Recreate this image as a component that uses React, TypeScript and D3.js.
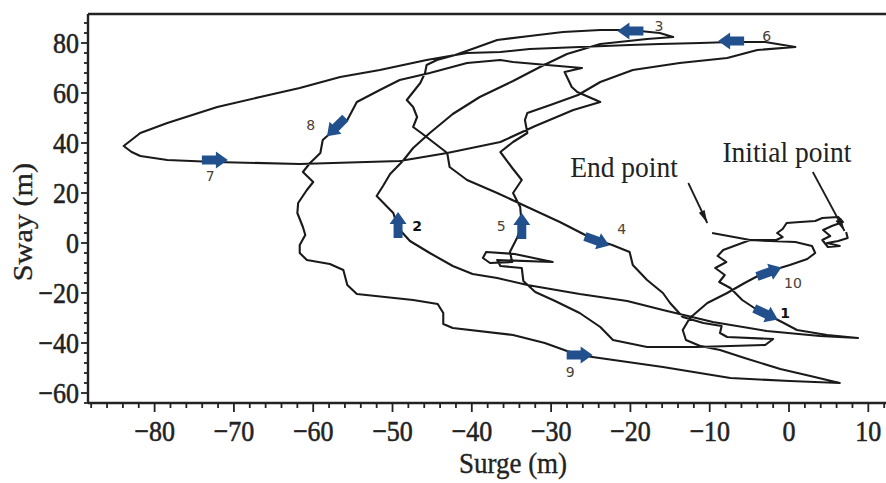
import React from 'react';
import * as d3 from 'd3';

const W = 886;
const H = 483;

// Axis ticks
const xTickValues = [-80, -70, -60, -50, -40, -30, -20, -10, 0, 10];
const yTickValues = [-60, -40, -20, 0, 20, 40, 60, 80];

// Trajectory legs [surge, sway] (m)
const leg1: [number, number][] = [
  [7.2, 4.4], [7.4, 2.0], [6.2, 0.8], [4.8, 0], [6.4, -1.2], [4.9, -1.6], [4.2, 1.2], [5.2, 2.8], [4.3, 5.2],
  [5.4, 6.8], [6.8, 8.4], [6.2, 10.4], [4.2, 10], [3.3, 8.8], [1.4, 8.4], [-0.3, 8.0], [-0.8, 5.6], [-1.5, 4.0],
  [-0.8, 2.4], [-1.6, 1.2], [-4.9, 1.2], [-8.3, -2.8], [-9.0, -5.2], [-7.9, -7.6], [-9.3, -10], [-8.1, -12.8],
  [-8.8, -15.6], [-7.4, -18], [-5.9, -22.8], [-4.0, -26.8], [-2.4, -29.2], [-0.9, -31.6], [1.0, -34.8],
  [4.8, -36.8], [8.7, -38],
];
const leg2: [number, number][] = [
  [8.7, -38], [3.9, -37.2], [-2.8, -35.2], [-9.6, -31.6], [-15.9, -26.8], [-20.4, -23.2], [-26.4, -20.4],
  [-30.8, -18], [-33.0, -16.8], [-36.8, -14], [-39.9, -12.4], [-42.4, -9.2], [-45.3, -4], [-47.8, 0.8],
  [-49.3, 6], [-49.9, 12], [-52.0, 18.8], [-51.2, 22.8], [-50.3, 27.6], [-48.7, 32.8], [-47.4, 38],
  [-45.3, 44], [-42.4, 51.6], [-39.0, 58.4], [-34.8, 64.8], [-31.4, 70.4], [-28.0, 75.6], [-23.8, 79.6],
  [-17.9, 81.6], [-14.6, 82.4],
];
const leg3: [number, number][] = [
  [-14.6, 82.4], [-16.3, 84], [-20.1, 85.2], [-23.8, 85.2], [-28.5, 84.4], [-32.7, 82.8], [-36.8, 81.2],
  [-39.6, 78], [-42.1, 75.2], [-44.4, 73.2], [-45.7, 71.2], [-45.9, 68], [-46.5, 64], [-48.2, 57.2],
  [-47.4, 54.4], [-46.9, 50.4], [-47.4, 46.4], [-46.2, 43.6], [-43.1, 36], [-42.8, 30.4], [-40.6, 25.2],
  [-36.8, 20], [-33.0, 14.4], [-28.9, 8.4], [-25.7, 3.2], [-24.2, 1.2], [-22.3, -0.8], [-20.1, -3.6],
  [-19.7, -8.8], [-17.9, -14.8], [-15.9, -20], [-15.0, -24], [-13.4, -29.6], [-10.8, -32], [-8.5, -33.2],
  [-8.7, -36], [-7.8, -37.6], [-2.0, -38.4],
];
const leg4: [number, number][] = [
  [-2.0, -38.4], [-3.0, -40.8], [-11.6, -41.6], [-17.9, -41.6], [-22.2, -38.8], [-23.8, -33.6],
  [-26.4, -28], [-29.5, -23.2], [-32.0, -19.6], [-33.5, -15.2], [-33.7, -10], [-36.4, -9.2], [-36.8, -6.8],
  [-29.8, -7.6], [-34.6, -4.4], [-38.2, -3.6], [-38.6, -6], [-37.7, -8], [-34.9, -7.6], [-35.2, -3.6],
  [-34.3, 2], [-33.7, 6.8], [-33.9, 14.4], [-34.8, 20], [-33.7, 25.2], [-34.9, 30], [-36.4, 36.4],
  [-34.8, 40.4], [-33.0, 44], [-33.3, 49.2], [-33.0, 52], [-30.1, 55.2], [-26.6, 59.2], [-23.8, 64.4],
  [-19.7, 69.2], [-13.8, 72], [-7.8, 74], [-4.0, 77.2], [0.8, 78.4],
];
const leg5: [number, number][] = [
  [0.8, 78.4], [-3.0, 80.4], [-7.4, 80.4], [-11.2, 80], [-16.3, 79.6], [-20.1, 79.2], [-26.4, 78.4],
  [-32.7, 77.6], [-36.4, 76.4], [-40.6, 76], [-45.7, 73.2], [-51.6, 69.2], [-56.6, 66.4], [-61.7, 62],
  [-66.7, 58.4], [-72.1, 54.4], [-78.4, 48], [-81.8, 44], [-83.9, 38.8], [-82.9, 36.4], [-81.8, 34.8],
  [-78.4, 33.2], [-72.4, 32.4], [-61.7, 31.6], [-49.1, 32.8], [-43.1, 36], [-36.4, 40.4], [-32.0, 46.8],
  [-27.2, 53.2], [-23.8, 56.4], [-26.7, 60.4], [-27.4, 62.4], [-28.3, 68.4], [-26.1, 70], [-30.5, 71.2],
  [-34.8, 72.4], [-36.4, 73.2], [-40.6, 72], [-45.3, 68], [-49.1, 65.2], [-51.6, 61.2], [-54.5, 56.4],
  [-55.7, 49.2], [-57.1, 46], [-58.8, 41.2], [-59.1, 36], [-60.4, 32], [-61.3, 28.4], [-60.0, 24.4],
  [-60.8, 21.2], [-61.9, 16], [-62.0, 12], [-61.3, 6.4], [-61.0, 3.2], [-61.7, -0.8], [-61.7, -4],
  [-60.8, -6.8], [-57.9, -8.4], [-56.2, -10.8], [-55.7, -16.8], [-54.5, -20.4], [-47.4, -22.8],
  [-44.3, -24.4], [-43.6, -28], [-43.6, -32.4], [-42.4, -34], [-34.8, -36.8], [-30.8, -40], [-28.0, -43.2],
  [-26.4, -44.8], [-24.8, -45.6], [-15.9, -49.6], [-7.4, -54], [0.1, -55.2], [6.4, -56],
];
const leg6: [number, number][] = [
  [6.4, -56], [2.7, -53.2], [-1.1, -50.4], [-5.6, -46], [-8.7, -42.8], [-11.2, -41.2], [-13.0, -38.8],
  [-13.4, -34.8], [-12.5, -30], [-10.3, -24], [-7.8, -20], [-5.6, -16], [-3.7, -12.8], [-2.4, -11.2],
  [0.1, -8.8], [2.3, -6.4], [3.3, -4], [2.9, -1.2], [0.8, 0.4], [-2.4, 0.8], [-4.9, 1.2], [-9.7, 4],
];

// Direction arrows
const arrowLabels = ['1', '2', '3', '4', '5', '6', '7', '8', '9', '10'];
const arrowSurge = [-2.9, -49.3, -20.0, -24.2, -33.7, -7.3, -72.4, -57.1, -26.4, -2.5];
const arrowSway = [-28.4, 7.2, 84.8, 0.8, 6.8, 80.8, 33.2, 46.4, -44.8, -11.6];
const arrowAngle = [25, -90, 180, 20, -90, 180, 0, 135, 0, -20];
const labelSurge = [-0.5, -46.9, -16.4, -21.1, -36.3, -2.8, -73.0, -60.3, -27.6, 0.5];
const labelSway = [-28, 6.8, 86.8, 5.6, 6.8, 82.8, 26.8, 47.2, -51.6, -16];

// Annotations
const noteText = ['Initial point', 'End point'];
const noteTextSurge = [-8.4, -27.6];
const noteTextSway = [32.4, 26.4];
const noteFrom: [number, number][] = [[3.0, 28.4], [-12.7, 24]];
const noteTo: [number, number][] = [[7.0, 4.8], [-10.3, 8]];

const serif = "'Liberation Serif', 'Times New Roman', Times, serif";

export default function App() {
  const x = d3.scaleLinear().domain([-88.4, 12.23]).range([88, 886]);
  const y = d3.scaleLinear().domain([-64, 91.6]).range([403, 14]);
  const track = [...leg1, ...leg2.slice(1), ...leg3.slice(1), ...leg4.slice(1), ...leg5.slice(1), ...leg6.slice(1)];
  const line = d3.line<[number, number]>().x(d => x(d[0])).y(d => y(d[1]));

  const xMinor = d3.range(-88, 13, 2);
  const yMinor = d3.range(-64, 89, 4);
  const left = 88, top = 14, bottom = 403;

  const arrowShape = 'M-13,-4.5 L1,-4.5 L1,-8.5 L13,0 L1,8.5 L1,4.5 L-13,4.5 Z';
  const fmt = (t: number) => (t < 0 ? '\u2212' + Math.abs(t) : String(t));

  return (
    <svg width={W} height={H} style={{ position: 'absolute', left: 0, top: 0, background: '#fff' }}>
      <rect width={W} height={H} fill="#fff" />
      {/* trajectory */}
      <path d={line(track) || ''} fill="none" stroke="#1a1a1a" strokeWidth={2.1} strokeLinejoin="round" />

      {/* frame */}
      <line x1={left} x2={W} y1={top} y2={top} stroke="#222" strokeWidth={2.4} />
      <line x1={left} x2={W} y1={bottom} y2={bottom} stroke="#222" strokeWidth={2.4} />
      <line x1={left} x2={left} y1={top} y2={bottom} stroke="#222" strokeWidth={2.4} />

      {/* ticks */}
      {xMinor.map(t => {
        const major = xTickValues.includes(t);
        return <line key={'xm' + t} x1={x(t)} x2={x(t)} y1={bottom} y2={bottom + (major ? 9 : 5)} stroke="#222" strokeWidth={1.8} />;
      })}
      {yMinor.map(t => {
        const major = yTickValues.includes(t);
        return <line key={'ym' + t} x1={left} x2={left - (major ? 7 : 4)} y1={y(t)} y2={y(t)} stroke="#222" strokeWidth={1.8} />;
      })}
      {xTickValues.map(t => (
        <text key={'xl' + t} transform={`translate(${x(t)},441) scale(1,1.12)`} textAnchor="middle"
          fontFamily={serif} fontSize={26} fill="#222" stroke="#222" strokeWidth={0.5}>{fmt(t)}</text>
      ))}
      {yTickValues.map(t => (
        <text key={'yl' + t} transform={`translate(79,${y(t) + 10}) scale(1,1.12)`} textAnchor="end"
          fontFamily={serif} fontSize={26} fill="#222" stroke="#222" strokeWidth={0.5}>{fmt(t)}</text>
      ))}

      {/* axis titles */}
      <text transform="translate(513,473) scale(1,1.1)" textAnchor="middle" fontFamily={serif} fontSize={27} fill="#222" stroke="#222" strokeWidth={0.3}>Surge (m)</text>
      <text transform="translate(32,222) rotate(-90) scale(1.12,1)" textAnchor="middle" fontFamily={serif} fontSize={27} fill="#222" stroke="#222" strokeWidth={0.3}>Sway (m)</text>

      {/* annotations */}
      {noteText.map((t, i) => (
        <text key={'nt' + i} transform={`translate(${x(noteTextSurge[i])},${y(noteTextSway[i])}) scale(1,1.1)`}
          fontFamily={serif} fontSize={27.5} fill="#222">{t}</text>
      ))}
      {noteFrom.map((f, i) => {
        const x1 = x(f[0]), y1 = y(f[1]), x2 = x(noteTo[i][0]), y2 = y(noteTo[i][1]);
        const ang = Math.atan2(y2 - y1, x2 - x1) * 180 / Math.PI;
        return (
          <g key={'na' + i}>
            <line x1={x1} y1={y1} x2={x2} y2={y2} stroke="#1c1c1c" strokeWidth={1.8} />
            <path transform={`translate(${x2},${y2}) rotate(${ang})`} d="M0,0 L-13,-3.2 L-13,3.2 Z" fill="#1c1c1c" />
          </g>
        );
      })}

      {/* direction arrows */}
      {arrowLabels.map((lab, i) => (
        <g key={'ar' + i}>
          <path transform={`translate(${x(arrowSurge[i])},${y(arrowSway[i])}) rotate(${arrowAngle[i]})`} d={arrowShape} fill="#22508c" />
          <text x={x(labelSurge[i])} y={y(labelSway[i]) + 5} textAnchor="middle"
            fontFamily="'DejaVu Sans', Verdana, sans-serif" fontSize={14}
            fontWeight={i < 2 ? 'bold' : 'normal'} fill={i < 2 ? '#111' : '#4a4036'}>{lab}</text>
        </g>
      ))}
    </svg>
  );
}
